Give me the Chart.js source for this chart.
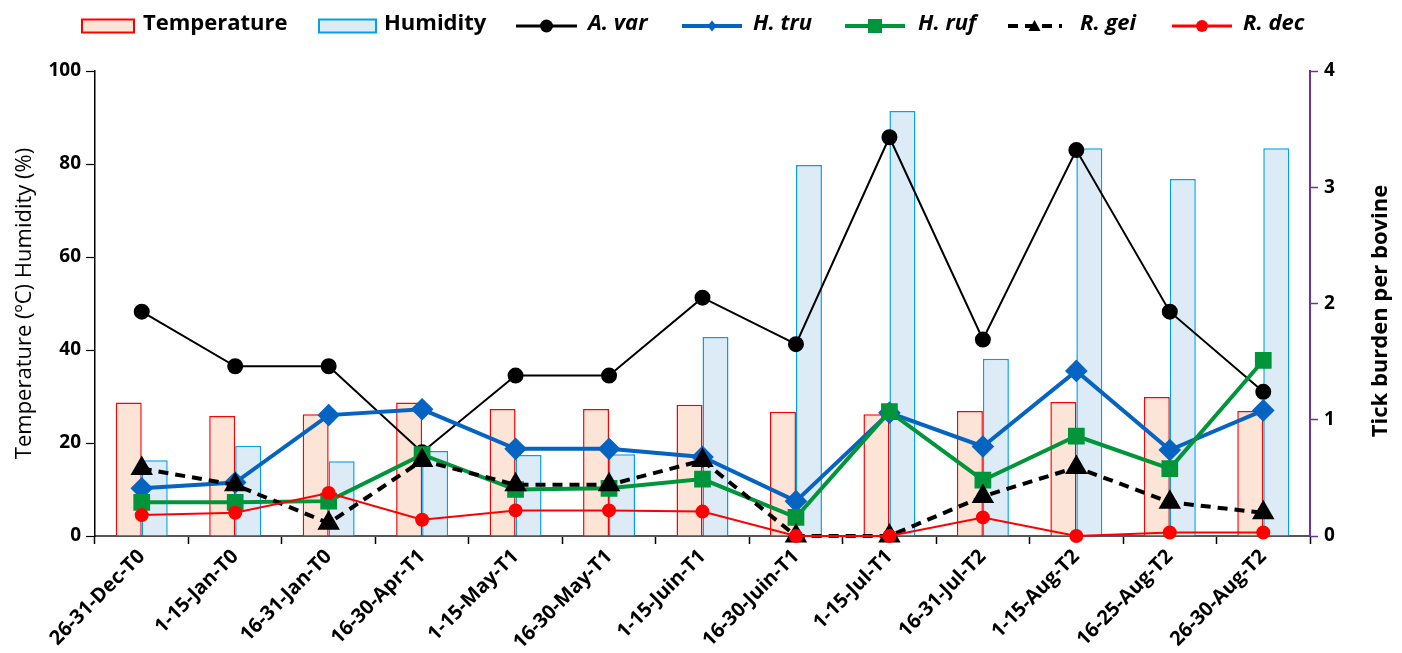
<!DOCTYPE html>
<html>
<head>
<meta charset="utf-8">
<script src="https://cdn.jsdelivr.net/npm/chart.js@4.4.1/dist/chart.umd.min.js"></script>
<style>
  html, body { margin: 0; padding: 0; background: #fff; }
  #wrap { position: relative; width: 1402px; height: 653px; }
  #legend { position: absolute; left: 0; top: 0; width: 1402px; height: 44px;
            font-family: "Open Sans", sans-serif; font-weight: bold; font-size: 22px; color: #000; }
  .ic { position: absolute; top: 12px; }
  .tx { position: absolute; top: 6px; line-height: 30px; white-space: nowrap; }
  .it { font-style: italic; }
</style>
</head>
<body>
<div id="wrap">
  <canvas id="c" width="1402" height="653"></canvas>
  <div id="legend"></div>
</div>
<script>
const categories = ['26-31-Dec-T0','1-15-Jan-T0','16-31-Jan-T0','16-30-Apr-T1','1-15-May-T1','16-30-May-T1','1-15-Juin-T1','16-30-Juin-T1','1-15-Jul-T1','16-31-Jul-T2','1-15-Aug-T2','16-25-Aug-T2','26-30-Aug-T2'];
const temperature = [28.7, 25.8, 26.2, 28.7, 27.3, 27.3, 28.2, 26.7, 26.2, 26.9, 28.8, 29.9, 26.9];
const humidity    = [16.3, 19.4, 16.1, 18.3, 17.4, 17.6, 42.8, 79.8, 91.4, 38.1, 83.4, 76.8, 83.4];
const aVar = [1.93, 1.46, 1.46, 0.72, 1.38, 1.38, 2.05, 1.65, 3.43, 1.69, 3.32, 1.93, 1.24];
const hTru = [0.41, 0.46, 1.04, 1.09, 0.75, 0.75, 0.68, 0.30, 1.06, 0.77, 1.42, 0.74, 1.08];
const hRuf = [0.29, 0.29, 0.30, 0.70, 0.40, 0.41, 0.49, 0.16, 1.07, 0.48, 0.86, 0.58, 1.51];
const rGei = [0.58, 0.44, 0.11, 0.65, 0.44, 0.44, 0.65, 0.00, 0.00, 0.34, 0.59, 0.29, 0.20];
const rDec = [0.18, 0.20, 0.37, 0.14, 0.22, 0.22, 0.21, 0.00, 0.00, 0.16, 0.00, 0.03, 0.03];
const leftTicks = [0, 20, 40, 60, 80, 100];
const rightTicks = [0, 1, 2, 3, 4];

const FONT = '"Open Sans", sans-serif';
const RED = '#FF0000', BLUE_B = '#00A2E8', TRU = '#0563C1', RUF = '#00953A', PURPLE = '#7030A0';

const datasets = [
  { type: 'bar', label: 'Temperature', data: temperature, yAxisID: 'y', backgroundColor: '#FCE4D6', borderColor: RED, borderWidth: 1.5, order: 10 },
  { type: 'bar', label: 'Humidity', data: humidity, yAxisID: 'y', backgroundColor: '#DDEBF7', borderColor: BLUE_B, borderWidth: 1.5, order: 10 },
  { type: 'line', label: 'A. var', data: aVar, yAxisID: 'y2', borderColor: '#000', backgroundColor: '#000', borderWidth: 2, pointStyle: 'circle', pointRadius: 7, order: 5, clip: false },
  { type: 'line', label: 'H. tru', data: hTru, yAxisID: 'y2', borderColor: TRU, backgroundColor: TRU, borderWidth: 4, pointStyle: 'rectRot', pointRadius: 8.5, order: 4, clip: false },
  { type: 'line', label: 'H. ruf', data: hRuf, yAxisID: 'y2', borderColor: RUF, backgroundColor: RUF, borderWidth: 4, pointStyle: 'rect', pointRadius: 9, order: 3, clip: false },
  { type: 'line', label: 'R. gei', data: rGei, yAxisID: 'y2', borderColor: '#000', backgroundColor: '#000', borderWidth: 4, borderDash: [10, 7], pointStyle: 'triangle', pointRadius: 9, order: 2, clip: false },
  { type: 'line', label: 'R. dec', data: rDec, yAxisID: 'y2', borderColor: RED, backgroundColor: RED, borderWidth: 2, pointStyle: 'circle', pointRadius: 6, order: 1, clip: false }
];

const rightTitle = {
  id: 'rightTitle',
  afterDraw(chart) {
    const ctx = chart.ctx;
    ctx.save();
    ctx.translate(1381, 311);
    ctx.rotate(-Math.PI / 2);
    ctx.font = 'bold 22px ' + FONT;
    ctx.fillStyle = '#000';
    ctx.textAlign = 'center';
    ctx.textBaseline = 'middle';
    ctx.fillText('Tick burden per bovine', 0, 0);
    ctx.restore();
  }
};

new Chart(document.getElementById('c'), {
  data: { labels: categories, datasets },
  plugins: [rightTitle],
  options: {
    responsive: false,
    animation: false,
    layout: { padding: { top: 71, left: 0, right: 0, bottom: 0 } },
    datasets: { bar: { categoryPercentage: 0.556, barPercentage: 1.0 }, line: { tension: 0 } },
    plugins: { legend: { display: false }, tooltip: { enabled: false } },
    scales: {
      x: {
        type: 'category', offset: true,
        grid: { display: true, drawOnChartArea: false, offset: true, tickLength: 8, color: '#000', tickWidth: 1.5 },
        border: { color: '#555', width: 2 },
        ticks: { color: '#000', font: { family: FONT, weight: 'bold', size: 20 }, maxRotation: 45, minRotation: 45, padding: 1, autoSkip: false },
        afterFit(s) { s.height = 117; }
      },
      y: {
        position: 'left', min: 0, max: 100,
        afterBuildTicks(s) { s.ticks = leftTicks.map(v => ({ value: v })); },
        grid: { display: true, drawOnChartArea: false, tickLength: 9, color: '#000', tickWidth: 1.2 },
        border: { color: '#000', width: 1.5 },
        ticks: { color: '#000', font: { family: FONT, weight: 'bold', size: 19 }, padding: 5 },
        title: { display: true, text: 'Temperature (ºC) Humidity (%)', color: '#000', font: { family: FONT, size: 22 }, padding: { top: 12, bottom: 0 } },
        afterFit(s) { s.width = 95; }
      },
      y2: {
        position: 'right', min: 0, max: 4,
        afterBuildTicks(s) { s.ticks = rightTicks.map(v => ({ value: v })); },
        grid: { display: true, drawOnChartArea: false, tickLength: 8, color: PURPLE, tickWidth: 1.5 },
        border: { color: PURPLE, width: 2 },
        ticks: { color: '#000', font: { family: FONT, weight: 'bold', size: 19 }, padding: 6 },
        afterFit(s) { s.width = 92; }
      }
    }
  }
});

// HTML legend (mixed upright / italic labels), positioned like the reference
function icon(ds, w) {
  const h = 20, c = h / 2;
  if (ds.type === 'bar') {
    return `<svg width="${w}" height="${h}"><rect x="1" y="3.5" width="${w - 2}" height="13" fill="${ds.backgroundColor}" stroke="${ds.borderColor}" stroke-width="2"/></svg>`;
  }
  const dash = ds.borderDash ? `stroke-dasharray="10,7" stroke-dashoffset="-1"` : '';
  let m = '';
  const col = ds.backgroundColor, x = w / 2;
  if (ds.pointStyle === 'circle') m = `<circle cx="${x}" cy="${c}" r="${ds.label === 'A. var' ? 6.5 : 6}" fill="${col}"/>`;
  if (ds.pointStyle === 'rectRot') m = `<polygon points="${x},${c-5.5} ${x+4.5},${c} ${x},${c+5.5} ${x-4.5},${c}" fill="${col}"/>`;
  if (ds.pointStyle === 'rect') m = `<rect x="${x-7}" y="${c-7}" width="14" height="14" fill="${col}"/>`;
  if (ds.pointStyle === 'triangle') m = `<polygon points="${x},${c-6} ${x+6},${c+5} ${x-6},${c+5}" fill="${col}"/>`;
  const lw = ds.label === 'A. var' || ds.label === 'R. dec' ? 3 : 4;
  return `<svg width="${w}" height="${h}"><line x1="0" y1="${c}" x2="${w}" y2="${c}" stroke="${ds.borderColor}" stroke-width="${lw}" ${dash}/>${m}</svg>`;
}
const legendSlots = [[81, 54, 143], [318, 59, 384], [516, 61, 588], [682, 60, 753], [845, 60, 918], [1007, 55, 1080], [1172, 60, 1243]];
const lg = document.getElementById('legend');
lg.innerHTML = datasets.map((ds, i) => {
  const [il, iw, tl] = legendSlots[i];
  return `<div class="ic" style="left:${il}px">${icon(ds, iw)}</div>` +
         `<div class="tx ${ds.type === 'line' ? 'it' : ''}" style="left:${tl}px">${ds.label}</div>`;
}).join('');
</script>
</body>
</html>
